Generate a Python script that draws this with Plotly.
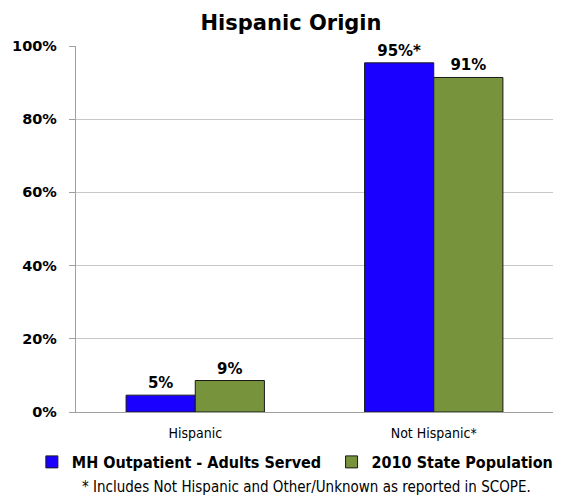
import plotly.graph_objects as go

categories = ["Hispanic", "Not Hispanic*"]
mh_values = [4.6, 95.4]
pop_values = [8.6, 91.4]
mh_labels = ["5%", "95%*"]
pop_labels = ["9%", "91%"]
y_ticks = [0, 20, 40, 60, 80, 100]
y_tick_labels = ["0%", "20%", "40%", "60%", "80%", "100%"]

COND = "DejaVu Sans Condensed"

fig = go.Figure()
fig.add_trace(go.Bar(
    x=categories, y=mh_values, name="<b>MH Outpatient - Adults Served</b>",
    text=["<b>%s</b>" % t for t in mh_labels], textposition="outside", cliponaxis=False,
    textfont=dict(family="DejaVu Sans", size=15, color="black"),
    marker=dict(color="#1a00ff", line=dict(color="#1a1a1a", width=1)),
    legend="legend",
))
fig.add_trace(go.Bar(
    x=categories, y=pop_values, name="<b>2010 State Population</b>",
    text=["<b>%s</b>" % t for t in pop_labels], textposition="outside", cliponaxis=False,
    textfont=dict(family="DejaVu Sans", size=15, color="black"),
    marker=dict(color="#77933c", line=dict(color="#1a1a1a", width=1)),
    legend="legend2",
))

leg_common = dict(orientation="h", xref="container", yref="container",
                  xanchor="left", y=0.0716, yanchor="middle",
                  font=dict(family=COND, size=16, color="black"),
                  itemwidth=30, bgcolor="rgba(0,0,0,0)")

fig.update_layout(
    width=555, height=489,
    paper_bgcolor="white", plot_bgcolor="white",
    margin=dict(l=68, r=10, t=38, b=85, autoexpand=False),
    title=dict(text="<b>Hispanic Origin</b>", x=0.51, xanchor="center", y=0.971, yanchor="middle",
               font=dict(family="DejaVu Sans", size=21, color="black")),
    barmode="group", bargap=0.42, bargroupgap=0,
    showlegend=True,
    legend=dict(x=0.043, **leg_common),
    legend2=dict(x=0.583, **leg_common),
)
fig.update_yaxes(
    range=[0, 100], tickvals=y_ticks,
    ticktext=["<b>%s</b>\u00a0\u00a0" % t for t in y_tick_labels],
    tickfont=dict(family="DejaVu Sans", size=14.5, color="black"),
    showgrid=True, gridcolor="#c8c8c8", gridwidth=1,
    showline=True, linecolor="#a0a0a0", ticks="outside", ticklen=6, tickcolor="#a0a0a0",
    zeroline=False,
)
fig.update_xaxes(
    tickfont=dict(family=COND, size=14, color="black"),
    showline=True, linecolor="#a0a0a0", ticks="outside", ticklen=8,
    tickcolor="rgba(0,0,0,0)",
)
fig.add_annotation(
    text="* Includes Not Hispanic and Other/Unknown as reported in SCOPE.",
    xref="paper", yref="paper", x=0.484, y=-0.205, xanchor="center", yanchor="middle",
    showarrow=False, font=dict(family=COND, size=15, color="black"),
)
fig.write_html("out.html")
